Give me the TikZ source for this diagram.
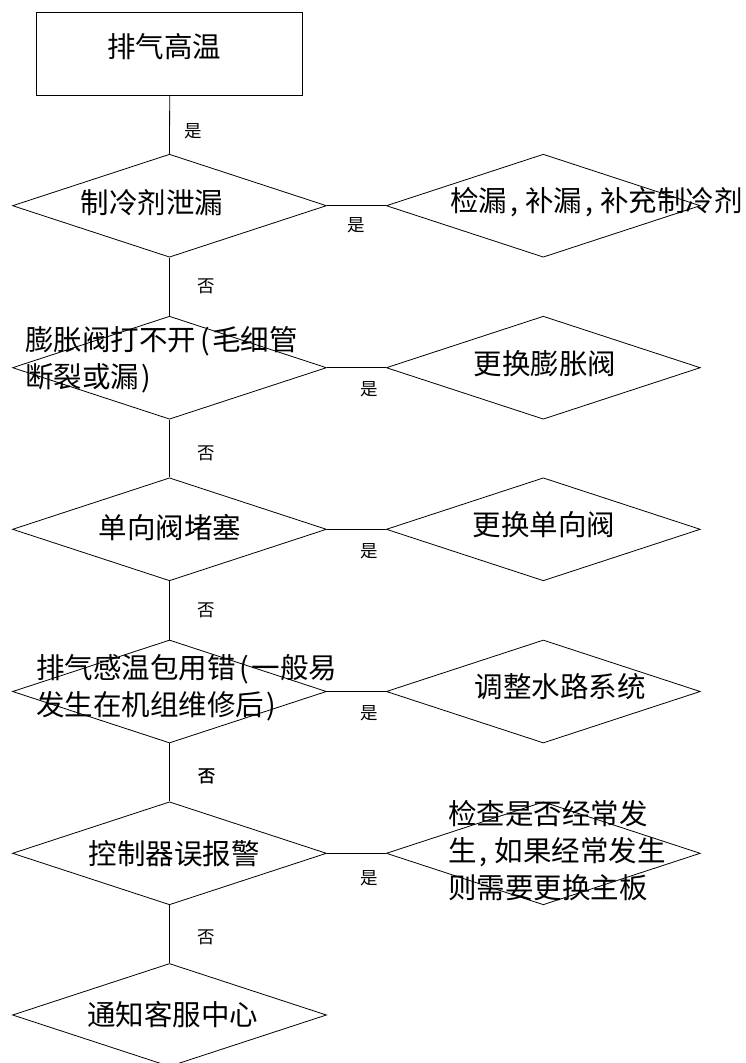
\documentclass[tikz,border=0pt]{standalone}
\usepackage{fontspec}
\newfontfamily\cjk{Noto Sans CJK SC}
\newfontfamily\cjkfb[FakeBold=1.2]{Noto Sans CJK SC}
\usetikzlibrary{shapes.geometric}
\newcommand{\cm}{\kern3pt,\kern7pt}
\newcommand{\lp}{\kern4pt(\kern2pt}
\newcommand{\rp}{\kern2pt)}
\begin{document}
\begin{tikzpicture}[x=1pt,y=-1pt,
  line width=0.8pt,
  dia/.style={draw, diamond, minimum width=314pt, minimum height=103pt, inner sep=0pt},
  box/.style={draw, rectangle, minimum width=266pt, minimum height=83.4pt, inner sep=0pt},
  txt/.style={font=\cjk\fontsize{28.5}{37}\selectfont, inner sep=0pt, align=left},
  lbl/.style={font=\cjk\fontsize{17.5}{19}\selectfont, inner sep=0pt},
  lblb/.style={font=\cjkfb\fontsize{17.5}{19}\selectfont, inner sep=0pt},
]
\useasboundingbox (0,0) rectangle (745,1063);
\clip (0,0) rectangle (745,1063);
\fill[white] (0,0) rectangle (745,1063);

% shapes
\node[box] (rect) at (169.7,54) {};
\node[dia] (d1) at (169.5,205.7) {};
\node[dia] (r1) at (543.3,205.7) {};
\node[dia] (d2) at (169.5,367.7) {};
\node[dia] (r2) at (543.3,367.7) {};
\node[dia] (d3) at (169.5,529.3) {};
\node[dia] (r3) at (543.3,529.3) {};
\node[dia] (d4) at (169.5,691.5) {};
\node[dia] (r4) at (543.3,691.5) {};
\node[dia] (d5) at (169.5,853.3) {};
\node[dia] (r5) at (543.3,853.3) {};
\node[dia] (d6) at (169.5,1015) {};

% texts
\node[txt] (t0) at (164,47) {排气高温};
\node[txt] (t1) at (152,203) {制冷剂泄漏};
\node[txt, anchor=west] (tr1) at (450,202) {检漏\cm 补漏\cm 补充制冷剂};
\node[txt, anchor=west] (t2) at (25,360) {膨胀阀打不开\lp 毛细管\\断裂或漏\rp};
\node[txt] (tr2) at (545,364) {更换膨胀阀};
\node[txt] (t3) at (170,528) {单向阀堵塞};
\node[txt] (tr3) at (544,525) {更换单向阀};
\node[txt, anchor=west] (t4) at (36,688) {排气感温包用错\lp 一般易\\发生在机组维修后\rp};
\node[txt] (tr4) at (560,687) {调整水路系统};
\node[txt] (t5) at (174,854) {控制器误报警};
\node[txt, anchor=west] (tr5) at (448,851) {检查是否经常发\\生\cm 如果经常发生\\则需要更换主板};
\node[txt] (t6) at (172.5,1015) {通知客服中心};

% connectors
\draw (rect.south) -- node[lbl, pos=0.6, xshift=24pt] {是} (d1.north);
\draw (d1.east) -- node[lbl, pos=0.5, yshift=-20pt] {是} (r1.west);
\draw (d1.south) -- node[lbl, pos=0.5, xshift=37pt] {否} (d2.north);
\draw (d2.east) -- node[lbl, pos=0.72, yshift=-22pt] {是} (r2.west);
\draw (d2.south) -- node[lbl, pos=0.58, xshift=37pt] {否} (d3.north);
\draw (d3.east) -- node[lbl, pos=0.72, yshift=-22pt] {是} (r3.west);
\draw (d3.south) -- node[lbl, pos=0.5, xshift=37pt] {否} (d4.north);
\draw (d4.east) -- node[lbl, pos=0.72, yshift=-22pt] {是} (r4.west);
\draw (d4.south) -- node[lblb, pos=0.56, xshift=37pt] {否} (d5.north);
\draw (d5.east) -- node[lbl, pos=0.72, yshift=-25pt] {是} (r5.west);
\draw (d5.south) -- node[lbl, pos=0.55, xshift=37pt] {否} (d6.north);
\end{tikzpicture}
\end{document}
